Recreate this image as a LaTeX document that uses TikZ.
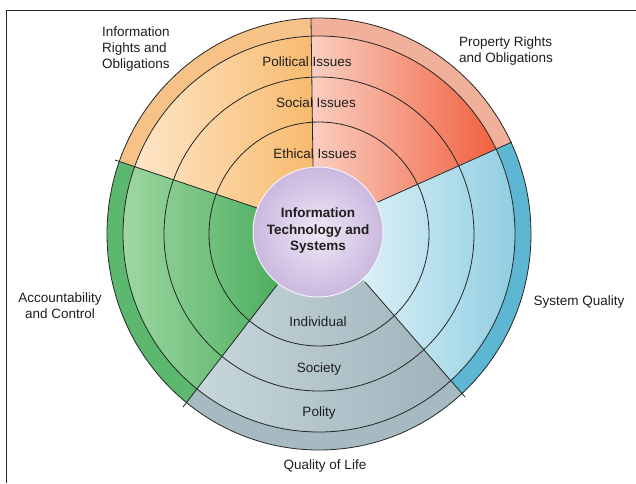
\documentclass[tikz,border=0pt]{standalone}
\usepackage{fontspec}
\setmainfont{Liberation Sans}
\usetikzlibrary{calc}
\definecolor{orBand}{HTML}{F6C287}
\definecolor{orL}{HTML}{FEEDD8}
\definecolor{orR}{HTML}{F8BA6C}
\definecolor{rdBand}{HTML}{F0B09A}
\definecolor{rdL}{HTML}{FAD0C2}
\definecolor{rdR}{HTML}{F0522F}
\definecolor{blBand}{HTML}{5DB6D2}
\definecolor{blL}{HTML}{DBF0F6}
\definecolor{blR}{HTML}{85C9DE}
\definecolor{gyBand}{HTML}{A6BBC1}
\definecolor{gyL}{HTML}{CADADF}
\definecolor{gyR}{HTML}{9BB0B7}
\definecolor{gnBand}{HTML}{5CB86F}
\definecolor{gnL}{HTML}{A9DCA9}
\definecolor{gnR}{HTML}{4AAE5E}
\definecolor{puIn}{HTML}{EEE8F6}
\definecolor{puOut}{HTML}{CBB8DF}
\definecolor{linec}{HTML}{262626}
\definecolor{textc}{HTML}{1E1E1E}
\newcommand{\wsector}[7]{%
  \begin{scope}
    \clip (C) -- (I#1) -- (F#1) -- (F#2) -- (I#2) -- cycle;
    \fill[#3] (C) ellipse [x radius=212pt, y radius=216pt];
    \begin{scope}
      \clip (C) ellipse [x radius=196pt, y radius=198pt];
      \shade[left color=#4, right color=#5] (#6) rectangle (#7);
    \end{scope}
    \draw[ring] (C) ellipse [x radius=110pt, y radius=112pt];
    \draw[ring] (C) ellipse [x radius=155pt, y radius=157pt];
    \draw[ring] (C) ellipse [x radius=196pt, y radius=198pt];
    \draw[ring] (C) ellipse [x radius=212pt, y radius=216pt];
  \end{scope}}
\begin{document}
\begin{tikzpicture}[x=1pt,y=-1pt,
  ring/.style={draw=linec, line width=0.8pt},
  divider/.style={draw=linec, line width=0.8pt},
  lbl/.style={font=\fontsize{13.5}{16}\selectfont, text=textc, inner sep=0pt, align=center},
  ctrlbl/.style={font=\bfseries\fontsize{13.5}{16.5}\selectfont, text=textc, inner sep=0pt, align=center},
  framec/.style={draw=linec, line width=1pt}]
\useasboundingbox (0,0) rectangle (636,483);
\fill[white] (0,0) rectangle (636,483);
\draw[framec] (636,10) -- (6,10) -- (6,483);

\coordinate (C) at (319,234);
\coordinate (M) at (318,232);
\coordinate (I1) at (313,167); \coordinate (O1) at (311,18);
\coordinate (I2) at (257,208); \coordinate (O2) at (115,160);
\coordinate (I3) at (277,285); \coordinate (O3) at (183,407);
\coordinate (I4) at (365,282); \coordinate (O4) at (465,397);
\coordinate (I5) at (378,202); \coordinate (O5) at (512,142);
\foreach \k in {1,...,5} { \coordinate (F\k) at ($(I\k)!2.2!(O\k)$); }

% sectors
\wsector{1}{2}{orBand}{orL}{orR}{105,10}{316,240}
\wsector{5}{1}{rdBand}{rdL}{rdR}{310,10}{520,240}
\wsector{4}{5}{blBand}{blL}{blR}{362,130}{536,402}
\wsector{3}{4}{gyBand}{gyL}{gyR}{178,278}{472,456}
\wsector{2}{3}{gnBand}{gnL}{gnR}{104,155}{282,412}

% dividers
\draw[divider] (I1) -- (O1);
\draw[divider] (I2) -- (O2);
\draw[divider] (I3) -- (O3);
\draw[divider] (I4) -- (O4);
\draw[divider] (I5) -- (O5);

% centre
\shade[inner color=puIn, outer color=puOut] (M) circle [radius=65pt];
\draw[draw=puIn!60!white, line width=1pt] (M) circle [radius=65pt];
\node[ctrlbl] (its) at (318,231) {Information\\Technology and\\Systems};

% ring labels
\node[lbl] (pol) at (307,62) {Political Issues};
\node[lbl] (soc) at (316,103) {Social Issues};
\node[lbl] (eth) at (315,154) {Ethical Issues};
\node[lbl] (ind) at (318,322) {Individual};
\node[lbl] (socy) at (319,369) {Society};
\node[lbl] (poly) at (319,413) {Polity};

% sector labels
\node[lbl, align=left, anchor=west] (irt) at (102,49) {Information\\Rights and\\Obligations};
\node[lbl, align=left, anchor=west] (prt) at (459,51) {Property Rights\\and Obligations};
\node[lbl] (acc) at (60,306) {Accountability\\and Control};
\node[lbl] (sq) at (579,302) {System Quality};
\node[lbl] (qol) at (325,466) {Quality of Life};
\end{tikzpicture}
\end{document}
